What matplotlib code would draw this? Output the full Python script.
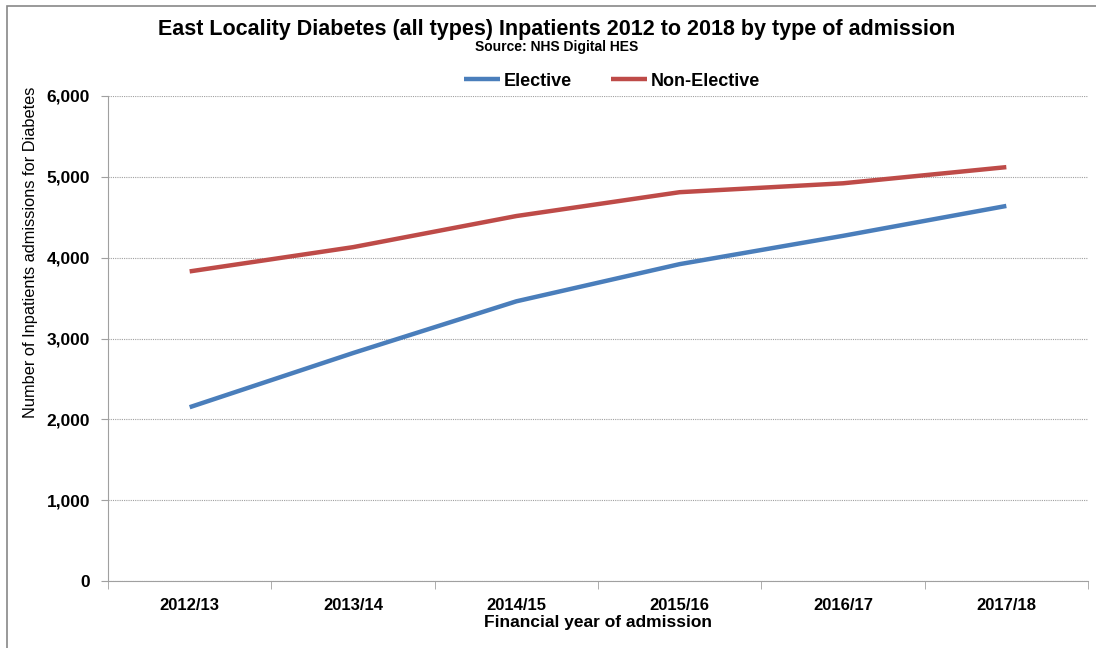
import matplotlib.pyplot as plt
from matplotlib.patches import Rectangle
from matplotlib.ticker import FuncFormatter, FixedLocator

plt.rcParams["font.family"] = ["Liberation Sans", "DejaVu Sans"]

years = ["2012/13", "2013/14", "2014/15", "2015/16", "2016/17", "2017/18"]
elective = [2150, 2820, 3460, 3920, 4270, 4640]
non_elective = [3830, 4130, 4515, 4810, 4920, 5120]

fig = plt.figure(figsize=(10.96, 6.48), dpi=100)
ax = fig.add_axes([108 / 1096, 1 - 581 / 648, 980 / 1096, 485 / 648])

x = list(range(len(years)))
ax.plot(x, elective, color="#4A7EBB", lw=3.2, label="Elective", solid_capstyle="butt")
ax.plot(x, non_elective, color="#BE4B48", lw=3.2, label="Non-Elective", solid_capstyle="butt")

ax.set_xlim(-0.5, len(years) - 0.5)
ax.set_ylim(0, 6000)
ax.set_yticks(range(0, 6001, 1000))
ax.yaxis.set_major_formatter(FuncFormatter(lambda v, p: f"{int(v):,}"))
ax.set_xticks(x)
ax.set_xticklabels(years, fontweight="bold", fontsize=12)
ax.xaxis.set_minor_locator(FixedLocator([i + 0.5 for i in range(-1, len(years))]))
ax.tick_params(axis="x", which="major", length=0, pad=12)
ax.tick_params(axis="x", which="minor", length=6, color="#a0a0a0", direction="out")
ax.tick_params(axis="y", length=5, color="#a0a0a0", labelsize=12.5, pad=8)
for lab in ax.get_yticklabels():
    lab.set_fontweight("bold")

ax.grid(axis="y", color="#a0a0a0", ls=(0, (1, 1)), lw=0.8)
ax.set_axisbelow(True)
for s in ["top", "right"]:
    ax.spines[s].set_visible(False)
ax.spines["left"].set_color("#a0a0a0")
ax.spines["bottom"].set_color("#a0a0a0")

ax.set_xlabel("Financial year of admission", fontsize=12.5, fontweight="bold", labelpad=2)
ax.set_ylabel("Number of Inpatients admissions for Diabetes", fontsize=11.8, va="center")
ax.yaxis.set_label_coords(-0.079, 0.678)

fig.text(0.508, 1 - 29 / 648, "East Locality Diabetes (all types) Inpatients 2012 to 2018 by type of admission",
         ha="center", va="center", fontsize=15.5, fontweight="bold")
fig.text(0.508, 1 - 47 / 648, "Source: NHS Digital HES", ha="center", va="center",
         fontsize=10, fontweight="bold")

fig.legend(loc="center", bbox_to_anchor=(612 / 1096, 1 - 81 / 648), ncol=2, frameon=False,
           prop={"size": 13, "weight": "bold"}, handlelength=2.0, handletextpad=0.2,
           columnspacing=2.2)

fig.patches.append(Rectangle((7 / 1096, -0.1), 1.2, 1 - 6 / 648 + 0.1, transform=fig.transFigure,
                             fill=False, edgecolor="#888888", lw=1.2))

fig.savefig("out.png", dpi=100)
